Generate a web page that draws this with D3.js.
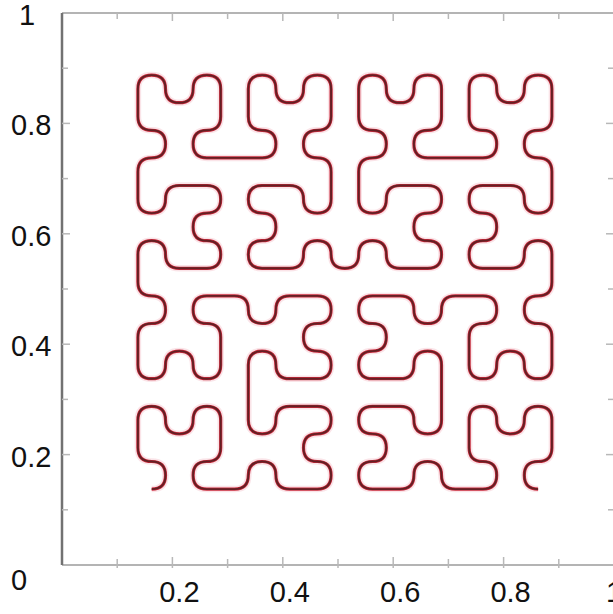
<!DOCTYPE html>
<html>
<head>
<meta charset="utf-8">
<script src="https://cdn.jsdelivr.net/npm/d3@7"></script>
<style>
    body { margin: 0; background: #fff; }
    .lbl { font-family: "Liberation Sans", Arial, sans-serif; font-size: 29px; fill: #111; }
</style>
</head>
<body>
<div id="chart"></div>
<script>

// grid positions (data units) of the 16x16 lattice the curve walks on
const gridValues = [0.1375, 0.1875, 0.2375, 0.2875, 0.3375, 0.3875, 0.4375, 0.4875,
                    0.5375, 0.5875, 0.6375, 0.6875, 0.7375, 0.7875, 0.8375, 0.8875];

// the path, step by step (one chunk per quarter)
// R = right, L = left, U = up, D = down ; starts at the bottom-left lattice point
const movesBottomLeft  = "RULUURDRURDDLDR" + "R" + "URDRRULURULLDLU" + "U" + "URDRRULURULLDLU" + "L" + "LDRDDLULDLUURUL";
const movesTopLeft     = "URDRRULURULLDLU" + "U" + "RULUURDRURDDLDR" + "R" + "RULUURDRURDDLDR" + "D" + "DLULLDRDLDRRURD";
const movesTopRight    = "URDRRULURULLDLU" + "U" + "RULUURDRURDDLDR" + "R" + "RULUURDRURDDLDR" + "D" + "DLULLDRDLDRRURD";
const movesBottomRight = "LDRDDLULDLUURUL" + "L" + "DLULLDRDLDRRURD" + "D" + "DLULLDRDLDRRURD" + "R" + "RULUURDRURDDLDR";
const joinMoves = ["U", "R", "D"];

// axis ticks
const majorTicks = [0.2, 0.4, 0.6, 0.8];
const minorTicks = [0.1, 0.3, 0.5, 0.7, 0.9];
const yLabels = [0, 0.2, 0.4, 0.6, 0.8, 1];

let width = 613, height = 614;

let svg = d3.select("#chart").append("svg")
    .attr("width", width)
    .attr("height", height);

let x = d3.scaleLinear().domain([0, 1]).range([62, 614]);
let y = d3.scaleLinear().domain([0, 1]).range([565, 13]);

// walk the moves to get lattice indices
let moves = movesBottomLeft + joinMoves[0] + movesTopLeft + joinMoves[1] + movesTopRight + joinMoves[2] + movesBottomRight;
let step = {R: [1, 0], L: [-1, 0], U: [0, 1], D: [0, -1]};
let ci = 0, cj = 0;
let data = [{x: gridValues[0], y: gridValues[0]}];
for (let m of moves) {
    ci += step[m][0];
    cj += step[m][1];
    data.push({x: gridValues[ci], y: gridValues[cj]});
}

// quadratic b-spline: goes from segment midpoint to segment midpoint,
// using each corner point as the control point
function curveMidQuad(context) {
    let pts;
    return {
        areaStart: function() {},
        areaEnd: function() {},
        lineStart: function() { pts = []; },
        point: function(px, py) { pts.push([+px, +py]); },
        lineEnd: function() {
            let mid = (a, b) => [(a[0] + b[0]) / 2, (a[1] + b[1]) / 2];
            let m0 = mid(pts[0], pts[1]);
            context.moveTo(m0[0], m0[1]);
            for (let i = 1; i < pts.length - 1; i++) {
                let m1 = mid(pts[i], pts[i + 1]);
                context.quadraticCurveTo(pts[i][0], pts[i][1], m1[0], m1[1]);
            }
        }
    };
}

let line = d3.line()
    .x(d => x(d.x))
    .y(d => y(d.y))
    .curve(curveMidQuad);

// frame
let frame = svg.append("g");
frame.append("line").attr("x1", x(0)).attr("x2", x(1)).attr("y1", y(1)).attr("y2", y(1))
    .attr("stroke", "#b4b4b4").attr("stroke-width", 2);
frame.append("line").attr("x1", x(0)).attr("x2", x(1)).attr("y1", y(0)).attr("y2", y(0))
    .attr("stroke", "#b4b4b4").attr("stroke-width", 2);
frame.append("line").attr("x1", x(0)).attr("x2", x(0)).attr("y1", y(1)).attr("y2", y(0))
    .attr("stroke", "#727272").attr("stroke-width", 2.5);

// ticks (all four sides, pointing inward)
let allTicks = majorTicks.map(v => ({v: v, len: 8})).concat(minorTicks.map(v => ({v: v, len: 6})));
let tk = svg.append("g").attr("stroke", "#b8b8b8").attr("stroke-width", 1.5);
tk.selectAll(".tb").data(allTicks).enter().append("line")
    .attr("x1", d => x(d.v)).attr("x2", d => x(d.v))
    .attr("y1", y(0) + 3).attr("y2", d => y(0) - d.len);
tk.selectAll(".tt").data(allTicks).enter().append("line")
    .attr("x1", d => x(d.v)).attr("x2", d => x(d.v))
    .attr("y1", y(1)).attr("y2", d => y(1) + d.len);
tk.selectAll(".tl").data(allTicks).enter().append("line")
    .attr("x1", x(0)).attr("x2", d => x(0) + d.len)
    .attr("y1", d => y(d.v)).attr("y2", d => y(d.v));
tk.selectAll(".tr").data(allTicks).enter().append("line")
    .attr("x1", x(1)).attr("x2", d => x(1) - d.len)
    .attr("y1", d => y(d.v)).attr("y2", d => y(d.v));

// tick labels
svg.selectAll(".xl").data(majorTicks.concat([1])).enter().append("text")
    .attr("class", "lbl")
    .attr("x", d => d === 1 ? x(d) : x(d) + 7)
    .attr("y", 602)
    .attr("text-anchor", "middle")
    .text(d => d);

svg.selectAll(".yl").data(yLabels).enter().append("text")
    .attr("class", "lbl")
    .attr("x", d => d === 1 ? 19 : 11)
    .attr("y", d => d === 0 ? y(d) + 25 : y(d) + 12)
    .text(d => d);

// the curve: soft red halo under a dark red core
svg.append("path")
    .datum(data)
    .attr("fill", "none")
    .attr("stroke", "#f4c4cb")
    .attr("stroke-width", 6.5)
    .attr("stroke-linejoin", "round")
    .attr("opacity", 0.45)
    .attr("d", line);

svg.append("path")
    .datum(data)
    .attr("fill", "none")
    .attr("stroke", "#c8283a")
    .attr("stroke-width", 3.2)
    .attr("stroke-linejoin", "round")
    .attr("d", line);

svg.append("path")
    .datum(data)
    .attr("fill", "none")
    .attr("stroke", "#632024")
    .attr("stroke-width", 1.9)
    .attr("stroke-linejoin", "round")
    .attr("d", line);

</script>
</body>
</html>
